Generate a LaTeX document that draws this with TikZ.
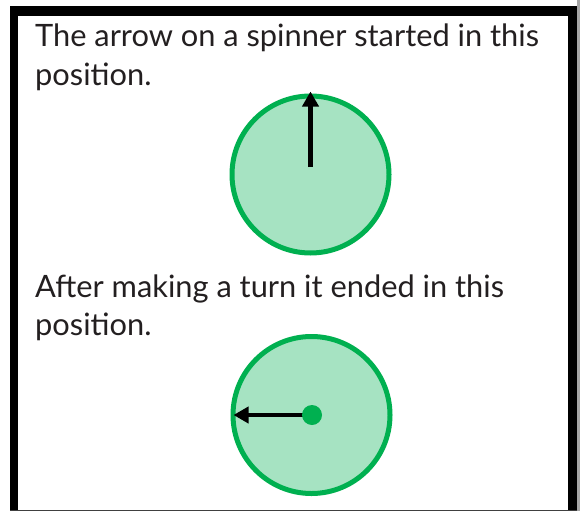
\documentclass[tikz,border=0pt]{standalone}
\usepackage{fontspec}
\setmainfont{Lato}
\usetikzlibrary{arrows.meta}
\definecolor{spingreen}{HTML}{00B050}
\definecolor{txt}{HTML}{231F20}
\tikzset{
  frame/.style={draw=black},
  spinner/.style={circle, draw=spingreen, line width=5pt, fill=spingreen!35!white, minimum size=157pt, inner sep=0pt},
  hand/.style={line width=4.5pt, -{Triangle[length=15pt,width=16pt]}, black},
  label/.style={anchor=base west, inner sep=0pt, text=txt, font=\fontsize{30.8}{38}\selectfont},
  hub/.style={circle, fill=spingreen, minimum size=20pt, inner sep=0pt}
}
\begin{document}
\begin{tikzpicture}[x=1pt,y=-1pt]
\useasboundingbox (0,0) rectangle (580,511);
\fill[white] (0,0) rectangle (580,511);
% shadow on right
\fill[black!35] (577,0) rectangle (580,511);
% frame
\draw[frame, line width=8pt] (14,11) -- (14,511);
\draw[frame, line width=10pt] (10,11) -- (577,11);
\draw[frame, line width=9pt] (572.5,6) -- (572.5,511);
\draw[black!75, line width=1.2pt] (10,510.4) -- (577,510.4);
% texts
\node[label] (t1) at (35,47) {The arrow on a spinner started in this};
\node[label] (t2) at (35,85) {position.};
\node[label] (t3) at (35,297) {After making a turn it ended in this};
\node[label] (t4) at (35,335) {position.};
% spinner 1
\node[spinner] (s1) at (310.5,174.5) {};
\coordinate (c1) at (310.5,167);
\draw[hand] (c1) -- ([yshift=2pt]s1.north);
% spinner 2
\node[spinner] (s2) at (311.5,415) {};
\draw[hand] (312,415) -- ([xshift=3pt]s2.west);
\node[hub] (h2) at (312,415) {};
\end{tikzpicture}
\end{document}
